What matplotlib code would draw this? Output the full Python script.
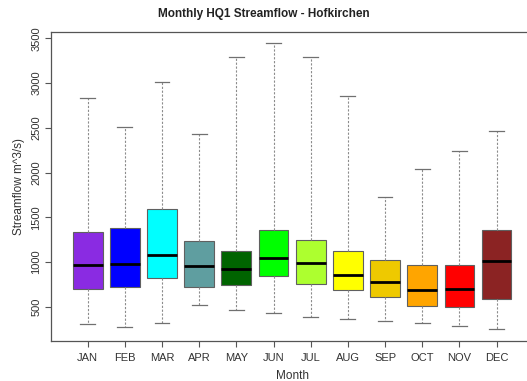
import matplotlib
matplotlib.use("Agg")
import matplotlib.pyplot as plt

# monthly HQ1 streamflow stats
months = ["JAN", "FEB", "MAR", "APR", "MAY", "JUN",
          "JUL", "AUG", "SEP", "OCT", "NOV", "DEC"]
whisker_low = [307, 273, 318, 519, 466, 433, 388, 366, 344, 318, 284, 251]
q1 = [701, 720, 824, 720, 746, 846, 757, 683, 612, 508, 497, 589]
median = [963, 977, 1081, 955, 918, 1044, 985, 851, 776, 683, 694, 1007]
q3 = [1338, 1380, 1595, 1234, 1123, 1354, 1242, 1126, 1025, 969, 963, 1361]
whisker_high = [2836, 2508, 3015, 2430, 3294, 3451, 3294, 2858, 1723, 2036, 2240, 2464]
colors = ["#8A2BE2", "#0000FF", "#00FFFF", "#5F9EA0", "#006400", "#00FF00",
          "#ADFF2F", "#FFFF00", "#EEC900", "#FFA500", "#FF0000", "#8B2323"]

plt.rcParams['font.family'] = ['Liberation Sans', 'DejaVu Sans']

stats = []
for i, m in enumerate(months):
    stats.append({
        "label": m,
        "whislo": whisker_low[i],
        "q1": q1[i],
        "med": median[i],
        "q3": q3[i],
        "whishi": whisker_high[i],
        "fliers": [],
    })

fig = plt.figure(figsize=(5.27, 3.81), dpi=100)
ax = fig.add_axes([0.0972, 0.1058, 0.9142, 0.811])

bp = ax.bxp(stats, positions=range(1, 13), widths=0.8, patch_artist=True,
            showfliers=False,
            boxprops=dict(linewidth=0.8, edgecolor="#606060"),
            medianprops=dict(color="black", linewidth=2.0),
            whiskerprops=dict(color="#8c8c8c", linewidth=0.8, linestyle=(0, (2, 1.5))),
            capprops=dict(color="#707070", linewidth=0.9),
            capwidths=0.4)
for patch, c in zip(bp["boxes"], colors):
    patch.set_facecolor(c)

ax.set_xlim(0.02, 12.98)
ax.set_ylim(120, 3574)
ax.set_yticks([500, 1000, 1500, 2000, 2500, 3000, 3500])
ax.set_xticks(range(1, 13))
ax.set_xticklabels(months)

for lab in ax.get_yticklabels():
    lab.set_rotation(90)
    lab.set_va("center")

for sp in ax.spines.values():
    sp.set_color("#555555")
    sp.set_linewidth(0.9)

ax.tick_params(axis="both", labelsize=8, colors="#555555", labelcolor="#333333",
               length=4, width=0.8)
ax.tick_params(axis="y", pad=3)
ax.tick_params(axis="x", pad=5)

ax.set_xlabel("Month", fontsize=8.5, color="#333333", labelpad=5)
ax.set_ylabel("Streamflow m^3/s)", fontsize=8.5, color="#333333", labelpad=5)
fig.text(0.5, 0.962, "Monthly HQ1 Streamflow - Hofkirchen", ha="center",
         va="center", fontsize=8.5, fontweight="bold", color="#222222")

fig.savefig("out.png", dpi=100)
